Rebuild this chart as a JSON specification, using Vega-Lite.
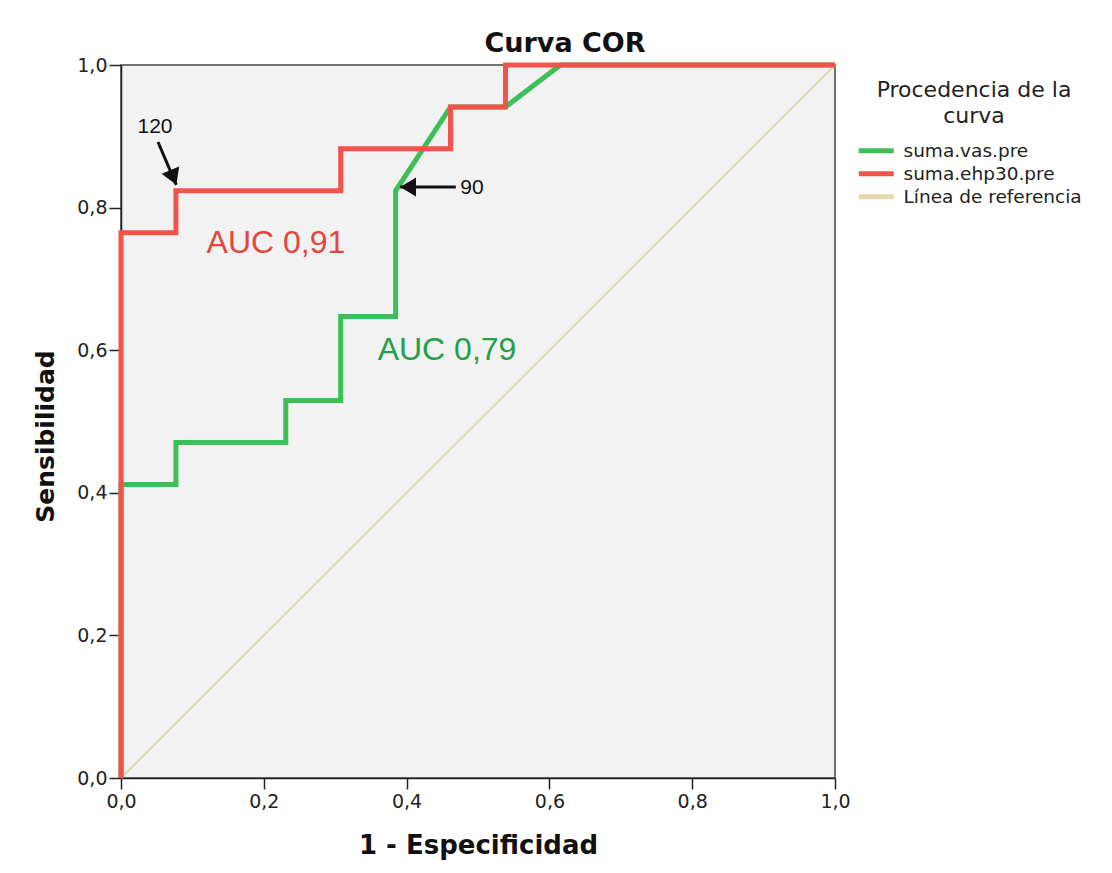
{
  "$schema": "https://vega.github.io/schema/vega-lite/v6.json",
  "autosize": {"type": "none"},
  "width": 714,
  "height": 713,
  "padding": {"left": 121, "top": 65, "right": 277, "bottom": 95},
  "background": "white",
  "title": {
    "text": "Curva COR",
    "font": "DejaVu Sans",
    "fontSize": 27,
    "fontWeight": "bold",
    "color": "#111",
    "anchor": "middle",
    "frame": "group",
    "dx": 87,
    "offset": -3
  },
  "config": {
    "view": {"fill": "#f2f2f2", "stroke": "#444", "strokeWidth": 1.5}
  },
  "datasets": {
    "curves": [
      {"series": "Línea de referencia", "i": 0, "x": 0, "y": 0},
      {"series": "Línea de referencia", "i": 1, "x": 1, "y": 1},
      {"series": "suma.vas.pre", "i": 0, "x": 0, "y": 0},
      {"series": "suma.vas.pre", "i": 1, "x": 0, "y": 0.4118},
      {"series": "suma.vas.pre", "i": 2, "x": 0.0769, "y": 0.4118},
      {"series": "suma.vas.pre", "i": 3, "x": 0.0769, "y": 0.4706},
      {"series": "suma.vas.pre", "i": 4, "x": 0.2308, "y": 0.4706},
      {"series": "suma.vas.pre", "i": 5, "x": 0.2308, "y": 0.5294},
      {"series": "suma.vas.pre", "i": 6, "x": 0.3077, "y": 0.5294},
      {"series": "suma.vas.pre", "i": 7, "x": 0.3077, "y": 0.6471},
      {"series": "suma.vas.pre", "i": 8, "x": 0.3846, "y": 0.6471},
      {"series": "suma.vas.pre", "i": 9, "x": 0.3846, "y": 0.8235},
      {"series": "suma.vas.pre", "i": 10, "x": 0.4615, "y": 0.9412},
      {"series": "suma.vas.pre", "i": 11, "x": 0.5385, "y": 0.9412},
      {"series": "suma.vas.pre", "i": 12, "x": 0.6154, "y": 1},
      {"series": "suma.vas.pre", "i": 13, "x": 1, "y": 1},
      {"series": "suma.ehp30.pre", "i": 0, "x": 0, "y": 0},
      {"series": "suma.ehp30.pre", "i": 1, "x": 0, "y": 0.7647},
      {"series": "suma.ehp30.pre", "i": 2, "x": 0.0769, "y": 0.7647},
      {"series": "suma.ehp30.pre", "i": 3, "x": 0.0769, "y": 0.8235},
      {"series": "suma.ehp30.pre", "i": 4, "x": 0.3077, "y": 0.8235},
      {"series": "suma.ehp30.pre", "i": 5, "x": 0.3077, "y": 0.8824},
      {"series": "suma.ehp30.pre", "i": 6, "x": 0.4615, "y": 0.8824},
      {"series": "suma.ehp30.pre", "i": 7, "x": 0.4615, "y": 0.9412},
      {"series": "suma.ehp30.pre", "i": 8, "x": 0.5385, "y": 0.9412},
      {"series": "suma.ehp30.pre", "i": 9, "x": 0.5385, "y": 1},
      {"series": "suma.ehp30.pre", "i": 10, "x": 1, "y": 1}
    ],
    "labels": [
      {"text": "120", "x": 0.0476, "y": 0.913, "size": 21, "color": "#111", "align": "center"},
      {"text": "90", "x": 0.4915, "y": 0.8275, "size": 21, "color": "#111", "align": "left"},
      {"text": "AUC 0,91", "x": 0.217, "y": 0.75, "size": 32, "color": "#e2463c", "align": "center"},
      {"text": "AUC 0,79", "x": 0.4566, "y": 0.6, "size": 32, "color": "#23a04a", "align": "center"}
    ],
    "arrows": [
      {"x": 0.0518, "y": 0.892, "x2": 0.0775, "y2": 0.832, "angle": 158},
      {"x": 0.469, "y": 0.829, "x2": 0.391, "y2": 0.829, "angle": 270}
    ]
  },
  "layer": [
    {
      "data": {"name": "curves"},
      "transform": [{"filter": "datum.series === 'Línea de referencia'"}],
      "mark": {"type": "line", "strokeWidth": 2, "strokeCap": "butt"},
      "encoding": {
        "x": {
          "field": "x", "type": "quantitative",
          "scale": {"domain": [0, 1], "nice": false, "zero": false},
          "axis": {
            "title": "1 - Especificidad",
            "grid": false,
            "values": [0, 0.2, 0.4, 0.6, 0.8, 1],
            "labelExpr": "replace(format(datum.value, '.1f'), '.', ',')",
            "labelFlush": false,
            "labelFont": "DejaVu Sans", "labelFontSize": 19, "labelColor": "#222", "labelPadding": 3,
            "domainColor": "#222", "domainWidth": 1.5, "tickColor": "#222", "tickWidth": 1.5, "tickSize": 11,
            "titleFont": "DejaVu Sans", "titleFontSize": 26, "titleFontWeight": "bold", "titleColor": "#111",
            "titleX": 357, "titleY": 67, "titleAlign": "center", "titleBaseline": "middle"
          }
        },
        "y": {
          "field": "y", "type": "quantitative",
          "scale": {"domain": [0, 1], "nice": false, "zero": false},
          "axis": {
            "title": "Sensibilidad",
            "grid": false,
            "values": [0, 0.2, 0.4, 0.6, 0.8, 1],
            "labelExpr": "replace(format(datum.value, '.1f'), '.', ',')",
            "labelFlush": false,
            "labelFont": "DejaVu Sans", "labelFontSize": 19, "labelColor": "#222", "labelPadding": 2,
            "domainColor": "#222", "domainWidth": 1.5, "tickColor": "#222", "tickWidth": 1.5, "tickSize": 12,
            "titleFont": "DejaVu Sans", "titleFontSize": 25, "titleFontWeight": "bold", "titleColor": "#111",
            "titleX": -76, "titleY": 371, "titleAngle": -90, "titleAlign": "center", "titleBaseline": "middle"
          }
        },
        "order": {"field": "i", "type": "quantitative"},
        "color": {
          "field": "series", "type": "nominal",
          "scale": {
            "domain": ["suma.vas.pre", "suma.ehp30.pre", "Línea de referencia"],
            "range": ["#3dbf58", "#f5524c", "#e2d9ad"]
          },
          "legend": {
            "title": ["Procedencia de la", "curva"],
            "orient": "none",
            "legendX": 746,
            "legendY": 15,
            "titleFont": "DejaVu Sans",
            "titleFontSize": 22,
            "titleFontWeight": "normal",
            "titleColor": "#222",
            "titleAlign": "center",
            "titleAnchor": "middle",
            "titleLineHeight": 25.5,
            "titlePadding": 14,
            "titleLimit": 400,
            "labelLimit": 400,
            "labelFont": "DejaVu Sans",
            "labelFontSize": 18.5,
            "labelColor": "#222",
            "labelOffset": 18,
            "symbolType": "M-3,0L3,0",
            "symbolStrokeWidth": 5,
            "symbolSize": 136,
            "symbolFillColor": "transparent",
            "rowPadding": 2
          }
        }
      }
    },
    {
      "data": {"name": "curves"},
      "transform": [{"filter": "datum.series === 'suma.vas.pre'"}],
      "mark": {"type": "line", "strokeWidth": 5, "strokeCap": "butt", "strokeJoin": "miter"},
      "encoding": {
        "x": {"field": "x", "type": "quantitative"},
        "y": {"field": "y", "type": "quantitative"},
        "order": {"field": "i", "type": "quantitative"},
        "color": {"field": "series", "type": "nominal"}
      }
    },
    {
      "data": {"name": "curves"},
      "transform": [{"filter": "datum.series === 'suma.ehp30.pre'"}],
      "mark": {"type": "line", "strokeWidth": 5, "strokeCap": "butt", "strokeJoin": "miter"},
      "encoding": {
        "x": {"field": "x", "type": "quantitative"},
        "y": {"field": "y", "type": "quantitative"},
        "order": {"field": "i", "type": "quantitative"},
        "color": {"field": "series", "type": "nominal"}
      }
    },
    {
      "data": {"name": "arrows"},
      "mark": {"type": "rule", "strokeWidth": 3, "color": "#111"},
      "encoding": {
        "x": {"field": "x", "type": "quantitative"},
        "y": {"field": "y", "type": "quantitative"},
        "x2": {"field": "x2"},
        "y2": {"field": "y2"}
      }
    },
    {
      "data": {"name": "arrows"},
      "mark": {"type": "point", "shape": "M0,0L-0.6,1L0.6,1Z", "filled": true, "color": "#111", "opacity": 1, "size": 1000},
      "encoding": {
        "x": {"field": "x2", "type": "quantitative"},
        "y": {"field": "y2", "type": "quantitative"},
        "angle": {"field": "angle", "type": "quantitative", "scale": null}
      }
    },
    {
      "data": {"name": "labels"},
      "mark": {"type": "text", "font": "Liberation Sans", "baseline": "middle"},
      "encoding": {
        "x": {"field": "x", "type": "quantitative"},
        "y": {"field": "y", "type": "quantitative"},
        "text": {"field": "text"},
        "size": {"field": "size", "type": "quantitative", "scale": null},
        "color": {"field": "color", "type": "nominal", "scale": null},
        "align": {"field": "align", "type": "nominal", "scale": null}
      }
    }
  ]
}
